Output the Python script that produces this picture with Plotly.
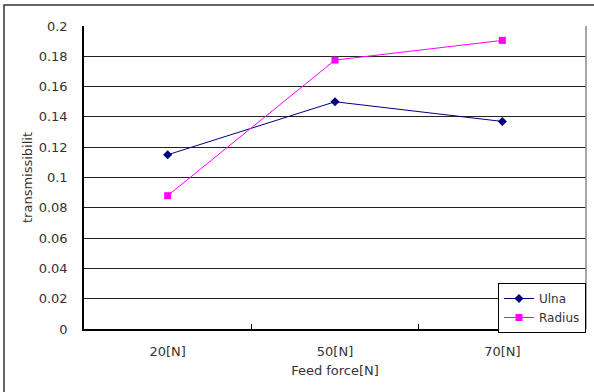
import plotly.graph_objects as go

categories = ["20[N]", "50[N]", "70[N]"]
ulna = [0.115, 0.150, 0.137]
radius = [0.088, 0.1775, 0.1905]
y_ticks = [0, 0.02, 0.04, 0.06, 0.08, 0.1, 0.12, 0.14, 0.16, 0.18, 0.2]
y_tick_labels = ["0", "0.02", "0.04", "0.06", "0.08", "0.1", "0.12", "0.14", "0.16", "0.18", "0.2"]

font_family = "DejaVu Sans, Liberation Sans, sans-serif"
text_color = "#333333"

fig = go.Figure()
fig.add_trace(go.Scatter(
    x=categories, y=ulna, name="Ulna", mode="lines+markers",
    line=dict(color="#000080", width=1),
    marker=dict(symbol="diamond", size=7, color="#000080"),
))
fig.add_trace(go.Scatter(
    x=categories, y=radius, name="Radius", mode="lines+markers",
    line=dict(color="#FF00FF", width=1),
    marker=dict(symbol="square", size=7, color="#FF00FF"),
))

W, H = 594, 392
L, R, T, B = 84, 8, 26, 63
pw = W - L - R
ph = H - T - B

fig.update_layout(
    width=W, height=H,
    margin=dict(l=L, r=R, t=T, b=B, pad=0),
    paper_bgcolor="white", plot_bgcolor="white",
    font=dict(family=font_family, size=13, color=text_color),
    showlegend=True,
    legend=dict(
        x=(498 - L) / pw, y=(329 - 283) / ph, xanchor="left", yanchor="top",
        bgcolor="white", bordercolor="#000000", borderwidth=1,
        font=dict(size=12, color=text_color),
        tracegroupgap=0, itemwidth=30,
    ),
    xaxis=dict(
        title=dict(text="Feed force[N]", font=dict(size=13, color=text_color), standoff=8),
        type="category", tickson="boundaries", ticks="inside", ticklen=5,
        tickcolor="black", showline=True, linecolor="black", linewidth=1.5,
        showgrid=False, mirror=False, tickfont=dict(size=13),
        ticklabelstandoff=10,
        range=[-0.5, 2.5],
    ),
    yaxis=dict(
        title=dict(text="transmissibilit", font=dict(size=13, color=text_color), standoff=3),
        range=[0, 0.2], tickvals=y_ticks, ticktext=y_tick_labels,
        ticks="", ticklabelstandoff=12,
        showline=True, linecolor="black", linewidth=1.5,
        showgrid=True, gridcolor="#222222", gridwidth=1,
        zeroline=False, tickfont=dict(size=13),
    ),
    shapes=[
        dict(type="line", xref="paper", yref="paper", x0=1, x1=1, y0=0, y1=1,
             line=dict(color="#888888", width=1.5)),
        dict(type="rect", xref="paper", yref="paper",
             x0=(4 - L) / pw, x1=(620 - L) / pw,
             y0=(T + ph - 420) / ph, y1=(T + ph - 5) / ph,
             line=dict(color="#333333", width=1.5), fillcolor="rgba(0,0,0,0)"),
    ],
)

fig.write_html("out.html")
